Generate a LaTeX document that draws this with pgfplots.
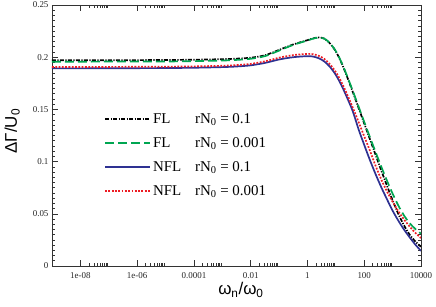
\documentclass[border=0pt]{standalone}
\usepackage{fontspec}
\setmainfont{Liberation Serif}
\newfontfamily\labelfont{Liberation Sans}
\usepackage{pgfplots}
\usepackage{pgfplotstable}
\pgfplotsset{compat=1.18}
\definecolor{cgreen}{RGB}{0,166,81}
\definecolor{cblue}{RGB}{46,49,146}
\definecolor{cred}{RGB}{237,28,36}

% columns: omega, FL rN0=0.1, FL rN0=0.001, NFL rN0=0.1, NFL rN0=0.001
\pgfplotstableread{
w        fla     flb     nfla    nflb
1e-9     0.1970  0.1957  0.1893  0.1906
1e-8     0.1970  0.1957  0.1893  0.1906
1e-7     0.1971  0.1958  0.1894  0.1907
1e-6     0.1972  0.1958  0.1895  0.1908
1e-5     0.1973  0.1959  0.1896  0.1909
1e-4     0.1976  0.1962  0.1899  0.1912
1e-3     0.1981  0.1968  0.1905  0.1918
0.003162 0.1986  0.1974  0.1911  0.1924
0.01     0.1995  0.1985  0.1922  0.1936
0.03162  0.2018  0.2010  0.1945  0.1960
0.1      0.2070  0.2063  0.1978  0.1995
0.3162   0.2122  0.2118  0.2000  0.2020
1        0.2163  0.2160  0.2010  0.2032
1.585    0.2180  0.2178  0.2006  0.2028
2.512    0.2190  0.2188  0.1990  0.2013
3.981    0.2177  0.2177  0.1958  0.1982
6.310    0.2130  0.2132  0.1905  0.1930
10       0.2055  0.2058  0.1830  0.1857
15.85    0.1945  0.1950  0.1730  0.1760
25.12    0.1810  0.1818  0.1610  0.1642
39.81    0.1665  0.1675  0.1480  0.1515
63.10    0.1515  0.1528  0.1310  0.1380
100      0.1365  0.1380  0.1160  0.1242
158.5    0.1215  0.1235  0.1015  0.1105
251.2    0.1065  0.1092  0.0880  0.0960
398.1    0.0915  0.0952  0.0755  0.0830
631.0    0.0770  0.0818  0.0640  0.0715
1000     0.0630  0.0693  0.0530  0.0615
1585     0.0500  0.0580  0.0435  0.0525
2512     0.0390  0.0485  0.0350  0.0447
3981     0.0300  0.0410  0.0275  0.0378
6310     0.0235  0.0355  0.0205  0.0318
10000    0.0185  0.0310  0.0145  0.0268
}\datatable

\begin{document}
\begin{tikzpicture}
\begin{axis}[
  at={(0,0)}, anchor=south west,
  scale only axis, width=369bp, height=261bp,
  xmode=log, xmin=1e-9, xmax=1e4, ymin=0, ymax=0.25,
  xtick={1e-8,1e-6,1e-4,1e-2,1,1e2,1e4},
  xticklabels={1e-08,1e-06,0.0001,0.01,1,100,10000},
  minor xtick={2e-8,3e-8,4e-8,5e-8,6e-8,7e-8,8e-8,9e-8,
               2e-6,3e-6,4e-6,5e-6,6e-6,7e-6,8e-6,9e-6,
               2e-4,3e-4,4e-4,5e-4,6e-4,7e-4,8e-4,9e-4,
               2e-2,3e-2,4e-2,5e-2,6e-2,7e-2,8e-2,9e-2,
               2,3,4,5,6,7,8,9,
               200,300,400,500,600,700,800,900},
  ytick={0,0.05,0.1,0.15,0.2,0.25},
  yticklabels={0,0.05,0.1,0.15,0.2,0.25},
  minor y tick num=9,
  tick align=inside,
  major tick length=6bp, minor tick length=3.5bp,
  axis line style={line width=0.8bp, black!80},
  every tick/.style={line width=0.6bp, black!80},
  ticklabel style={font=\fontsize{9}{10}\selectfont, text=black!85},
  xticklabel style={yshift=-3bp},
  xlabel={\labelfont ω\textsubscript{n}/ω\textsubscript{0}},
  xlabel style={at={(axis description cs:0.512,-0.092)}, anchor=center, font=\fontsize{17}{19}\selectfont},
  ylabel={\labelfont ΔΓ/U\textsubscript{0}},
  ylabel style={at={(axis description cs:-0.108,0.517)}, anchor=center, font=\fontsize{17}{19}\selectfont},
  legend style={draw=none, fill=none, at={(axis description cs:0.133,0.6)}, anchor=north west,
    font=\fontsize{15}{17}\selectfont, row sep=8.5bp, legend cell align=left},
  legend image code/.code={\draw[#1, line width=1.8bp] (0bp,0bp) -- (45bp,0bp);},
]
\addplot[black, line width=1.7bp, smooth, dash pattern=on 4bp off 1.4bp on 1.2bp off 1.4bp] table[x=w, y=fla] {\datatable};
\addlegendentry{\makebox[42bp][l]{FL}rN\textsubscript{0} = 0.1}
\addplot[cgreen, line width=1.7bp, smooth, dash pattern=on 9bp off 4bp] table[x=w, y=flb] {\datatable};
\addlegendentry{\makebox[42bp][l]{FL}rN\textsubscript{0} = 0.001}
\addplot[cblue, line width=1.7bp, smooth] table[x=w, y=nfla] {\datatable};
\addlegendentry{\makebox[42bp][l]{NFL}rN\textsubscript{0} = 0.1}
\addplot[cred, line width=1.7bp, smooth, dash pattern=on 1.8bp off 1.5bp] table[x=w, y=nflb] {\datatable};
\addlegendentry{\makebox[42bp][l]{NFL}rN\textsubscript{0} = 0.001}
\end{axis}
\pgfresetboundingbox
\path (-52bp,-41bp) rectangle (384bp,266bp);
\end{tikzpicture}
\end{document}
